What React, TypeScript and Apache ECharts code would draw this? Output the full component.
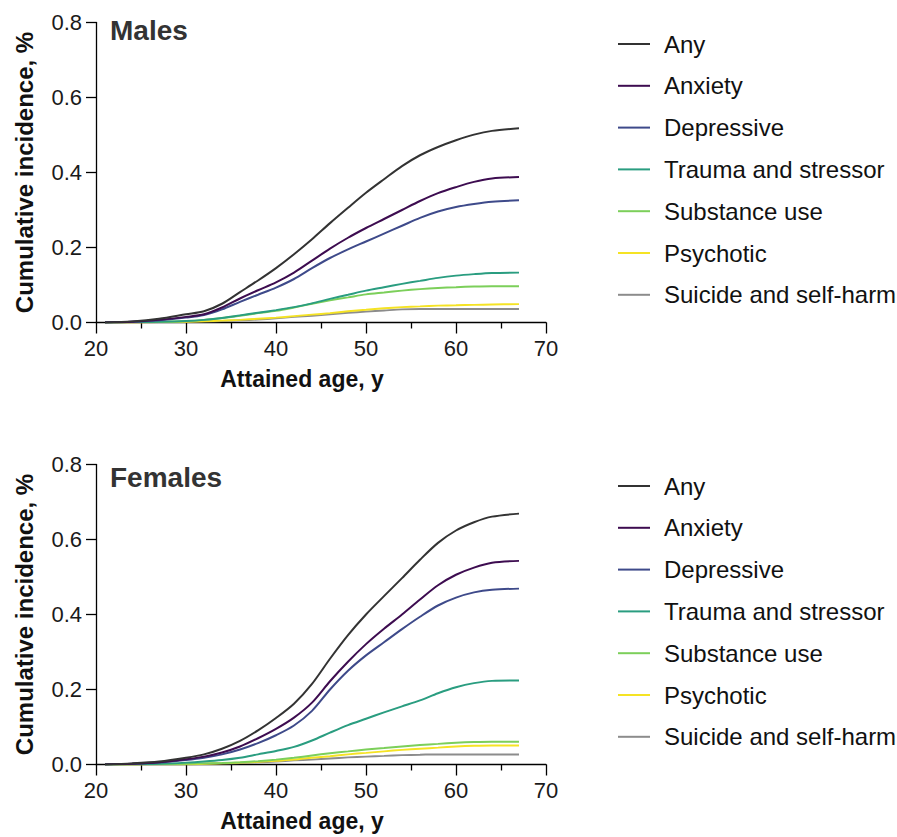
import React, { useEffect, useRef } from "react";
import * as echarts from "echarts";

const seriesNames = [
  "Any",
  "Anxiety",
  "Depressive",
  "Trauma and stressor",
  "Substance use",
  "Psychotic",
  "Suicide and self-harm",
];
const seriesColors = ["#333333", "#3d0c50", "#3e4a8a", "#2a9d80", "#7ccf5a", "#f5e324", "#8c8c8c"];

const ages = [21, 24, 27, 30, 32, 34, 36, 38, 40, 42, 44, 46, 48, 50, 52, 54, 56, 58, 60, 62, 64, 67];

// Males
const maleAny = [0, 0.003, 0.01, 0.022, 0.03, 0.05, 0.081, 0.112, 0.145, 0.182, 0.222, 0.265, 0.306, 0.346, 0.382, 0.417, 0.446, 0.468, 0.486, 0.501, 0.511, 0.518];
const maleAnxiety = [0, 0.002, 0.007, 0.015, 0.022, 0.04, 0.064, 0.086, 0.107, 0.133, 0.165, 0.197, 0.226, 0.252, 0.276, 0.3, 0.324, 0.345, 0.361, 0.375, 0.384, 0.388];
const maleDepressive = [0, 0.002, 0.006, 0.013, 0.02, 0.035, 0.055, 0.074, 0.093, 0.116, 0.145, 0.172, 0.195, 0.216, 0.237, 0.258, 0.279, 0.296, 0.308, 0.316, 0.322, 0.326];
const maleTrauma = [0, 0.001, 0.002, 0.004, 0.007, 0.012, 0.019, 0.026, 0.033, 0.041, 0.051, 0.063, 0.074, 0.085, 0.094, 0.103, 0.111, 0.119, 0.125, 0.129, 0.132, 0.133];
const maleSubstance = [0, 0.001, 0.002, 0.004, 0.007, 0.012, 0.018, 0.025, 0.031, 0.04, 0.05, 0.059, 0.067, 0.075, 0.08, 0.085, 0.089, 0.092, 0.094, 0.096, 0.097, 0.097];
const malePsychotic = [0, 0, 0.001, 0.002, 0.003, 0.005, 0.007, 0.01, 0.013, 0.017, 0.021, 0.025, 0.03, 0.034, 0.038, 0.041, 0.043, 0.045, 0.046, 0.047, 0.048, 0.049];
const maleSuicide = [0, 0, 0.001, 0.002, 0.003, 0.004, 0.006, 0.008, 0.011, 0.015, 0.018, 0.022, 0.026, 0.029, 0.032, 0.035, 0.036, 0.036, 0.036, 0.036, 0.036, 0.036];

// Females
const femaleAny = [0, 0.003, 0.008, 0.018, 0.027, 0.042, 0.063, 0.091, 0.124, 0.162, 0.215, 0.282, 0.345, 0.4, 0.449, 0.497, 0.546, 0.591, 0.624, 0.646, 0.661, 0.669];
const femaleAnxiety = [0, 0.002, 0.006, 0.014, 0.021, 0.032, 0.048, 0.07, 0.095, 0.125, 0.165, 0.222, 0.274, 0.321, 0.362, 0.4, 0.44, 0.478, 0.506, 0.525, 0.538, 0.543];
const femaleDepressive = [0, 0.002, 0.005, 0.012, 0.018, 0.027, 0.04, 0.057, 0.078, 0.104, 0.143, 0.2, 0.25, 0.291, 0.326, 0.361, 0.394, 0.424, 0.445, 0.459, 0.466, 0.469];
const femaleTrauma = [0, 0.001, 0.002, 0.005, 0.008, 0.012, 0.018, 0.027, 0.036, 0.047, 0.064, 0.085, 0.105, 0.122, 0.139, 0.155, 0.171, 0.19, 0.206, 0.217, 0.223, 0.224];
const femaleSubstance = [0, 0, 0.001, 0.002, 0.003, 0.004, 0.006, 0.009, 0.013, 0.018, 0.024, 0.03, 0.035, 0.04, 0.044, 0.048, 0.052, 0.055, 0.058, 0.06, 0.061, 0.061];
const femalePsychotic = [0, 0, 0.001, 0.001, 0.002, 0.003, 0.005, 0.007, 0.01, 0.013, 0.018, 0.022, 0.027, 0.031, 0.035, 0.039, 0.042, 0.045, 0.048, 0.05, 0.051, 0.051];
const femaleSuicide = [0, 0, 0.001, 0.001, 0.002, 0.003, 0.004, 0.006, 0.008, 0.011, 0.013, 0.016, 0.019, 0.021, 0.023, 0.025, 0.026, 0.027, 0.027, 0.027, 0.027, 0.027];

const maleData = [maleAny, maleAnxiety, maleDepressive, maleTrauma, maleSubstance, malePsychotic, maleSuicide];
const femaleData = [femaleAny, femaleAnxiety, femaleDepressive, femaleTrauma, femaleSubstance, femalePsychotic, femaleSuicide];

const panelTitles = ["Males", "Females"];
const xTicks = { min: 20, max: 70, interval: 10 };
const yTicks = { min: 0, max: 0.8, interval: 0.2 };

const FONT = "'Liberation Sans', Arial, Helvetica, sans-serif";

export default function App() {
  const ref = useRef<HTMLDivElement>(null);

  useEffect(() => {
    if (!ref.current) return;
    const chart = echarts.init(ref.current, null, { renderer: "svg" });

    const gridTops = [22.5, 464.5];
    const grids = gridTops.map((top) => ({ left: 96, top, width: 450, height: 300 }));

    const axisLine = { show: true, lineStyle: { color: "#000", width: 1.3 } };

    const xAxes = gridTops.map((_, i) => ({
      type: "value",
      gridIndex: i,
      min: xTicks.min,
      max: xTicks.max,
      interval: xTicks.interval,
      axisLine: { ...axisLine, onZero: false },
      axisTick: { show: true, length: 11, lineStyle: { color: "#000", width: 1.3 } },
      minorTick: { show: true, splitNumber: 2, length: 6, lineStyle: { color: "#000", width: 1.3 } },
      splitLine: { show: false },
      axisLabel: { fontSize: 22, color: "#1a1a1a", margin: 15, fontFamily: FONT },
      name: "Attained age, y",
      nameLocation: "middle",
      nameGap: 45,
      nameTextStyle: {
        fontSize: 23,
        fontWeight: "bold",
        color: "#111",
        fontFamily: FONT,
        padding: [0, 38, 0, 0],
      },
    }));

    const yAxes = gridTops.map((_, i) => ({
      type: "value",
      gridIndex: i,
      min: yTicks.min,
      max: yTicks.max,
      interval: yTicks.interval,
      axisLine,
      axisTick: { show: true, length: 10, lineStyle: { color: "#000", width: 1.3 } },
      splitLine: { show: false },
      axisLabel: {
        fontSize: 22,
        color: "#1a1a1a",
        margin: 14,
        fontFamily: FONT,
        formatter: (v: number) => v.toFixed(1),
      },
      name: "Cumulative incidence, %",
      nameLocation: "middle",
      nameGap: 60,
      nameTextStyle: { fontSize: 24, fontWeight: "bold", color: "#111", fontFamily: FONT },
    }));

    const makeSeries = (data: number[][], idx: number) =>
      data.map((vals, s) => ({
        type: "line",
        name: seriesNames[s],
        xAxisIndex: idx,
        yAxisIndex: idx,
        data: ages.map((a, k) => [a, vals[k]]),
        showSymbol: false,
        symbol: "none",
        smooth: 0.3,
        color: seriesColors[s],
        lineStyle: { width: 2, color: seriesColors[s] },
        z: 10 - s,
      }));

    const legendTops = [27, 469];
    const legends = legendTops.map((top) => ({
      orient: "vertical",
      left: 613,
      top,
      icon: "rect",
      itemWidth: 32,
      itemHeight: 2,
      itemGap: 17.8,
      data: seriesNames,
      selectedMode: false,
      textStyle: {
        fontSize: 24,
        lineHeight: 24,
        color: "#111",
        fontFamily: FONT,
        padding: [0, 0, 0, 9],
      },
    }));

    const option = {
      animation: false,
      backgroundColor: "#fff",
      title: [
        {
          text: panelTitles[0],
          left: 110,
          top: 16,
          padding: 0,
          textStyle: { fontSize: 28, fontWeight: "bold", color: "#333", fontFamily: FONT },
        },
        {
          text: panelTitles[1],
          left: 110,
          top: 463,
          padding: 0,
          textStyle: { fontSize: 28, fontWeight: "bold", color: "#333", fontFamily: FONT },
        },
      ],
      grid: grids,
      xAxis: xAxes,
      yAxis: yAxes,
      legend: legends,
      series: [...makeSeries(maleData, 0), ...makeSeries(femaleData, 1)],
    };

    chart.setOption(option as any);
    return () => chart.dispose();
  }, []);

  return (
    <div
      ref={ref}
      style={{ position: "absolute", left: 0, top: 0, width: 897, height: 837 }}
    />
  );
}
